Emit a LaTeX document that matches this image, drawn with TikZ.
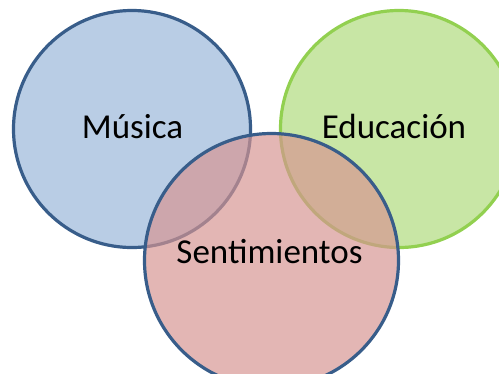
\documentclass[tikz,border=0pt]{standalone}
\usepackage{fontspec}
\setmainfont{Carlito}
\definecolor{bluefill}{RGB}{185,205,229}
\definecolor{blueline}{RGB}{56,93,138}
\definecolor{greenfill}{RGB}{200,230,165}
\definecolor{greenline}{RGB}{146,208,80}
\definecolor{redfill}{RGB}{215,148,145}
\tikzset{
  venn/.style={circle, inner sep=0pt, line width=3.2pt},
  lbl/.style={anchor=base, font=\fontsize{35}{40}\selectfont, text=black, inner sep=0pt}
}
\begin{document}
\begin{tikzpicture}[x=1pt,y=-1pt]
\useasboundingbox (0,0) rectangle (499,373);
\clip (0,0) rectangle (499,373);
\fill[white] (0,0) rectangle (499,373);
\node[venn, draw=blueline, fill=bluefill, minimum size=237pt] (musica) at (132,129) {};
\node[venn, draw=greenline, fill=greenfill, minimum size=237pt] (educ) at (399,129) {};
\node[venn, draw=blueline, fill=redfill, fill opacity=0.68, minimum size=254pt] (sent) at (271.5,260.5) {};
\node[lbl] (tm) at (132.5,138) {Música};
\node[lbl] (te) at (394,138) {Educación};
\node[lbl] (ts) at (269.5,263) {Sentimientos};
\end{tikzpicture}
\end{document}
